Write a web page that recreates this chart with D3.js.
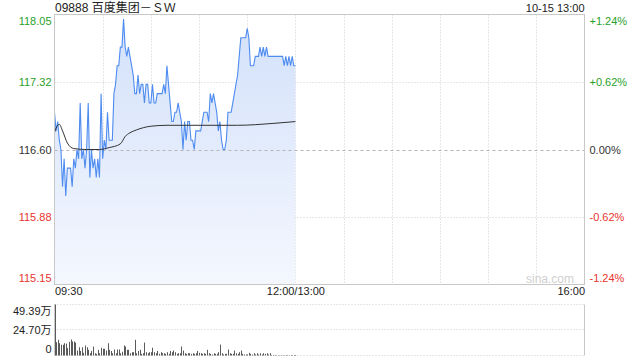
<!DOCTYPE html>
<html>
<head>
<meta charset="utf-8">
<script src="https://cdn.jsdelivr.net/npm/d3@7"></script>
<style>
  body { margin: 0; background: #fff; }
  svg { display: block; }
</style>
</head>
<body>
<svg id="chart"></svg>
<script>
// ---- data ----
const stockName = '09888 百度集团－ＳＷ'
const stamp = '10-15 13:00'
const prevClose = 116.60
const priceTicks = [115.15, 115.88, 116.60, 117.32, 118.05]
const pctTicks = ['-1.24%', '-0.62%', '0.00%', '+0.62%', '+1.24%']
const timeTicks = [0, 150, 330]
const timeLabels = ['09:30', '12:00/13:00', '16:00']
const volTicks = [0, 24.70, 49.39]
const volLabels = ['0', '24.70万', '49.39万']

// one price per minute from 09:30
const prices = [
  117.0, 116.8, 116.9, 116.7, 116.6, 116.2, 116.5, 116.1, 116.4, 116.4,
  116.4, 116.2, 116.5, 116.4, 116.6, 116.5, 117.1, 116.5, 116.6, 116.4,
  116.6, 117.1, 116.3, 116.6, 116.4, 116.5, 116.3, 116.5, 116.3, 117.2,
  116.5, 116.7, 116.6, 117.0, 116.7, 116.7, 116.7, 117.2, 117.3, 117.5,
  117.5, 117.7, 117.7, 118.0, 117.7, 117.6, 117.7, 117.6, 117.5, 117.4,
  117.2, 117.2, 117.4, 117.2, 117.3, 117.3, 117.1, 117.3, 117.3, 117.1,
  117.1, 117.3, 117.1, 117.1, 117.2, 117.2, 117.2, 117.2, 117.3, 117.2,
  117.5, 117.3, 117.1, 116.9, 116.9, 117.0, 117.0, 117.1, 117.0, 116.9,
  116.6, 116.9, 116.7, 116.9, 116.9, 116.7, 116.7, 116.6, 116.8, 116.8,
  116.8, 116.8, 116.9, 117.0, 117.0, 117.0, 116.9, 117.2, 117.1, 117.2,
  117.1, 117.0, 116.8, 116.9, 116.7, 116.6, 116.6, 116.7, 117.0, 117.0,
  117.0, 117.1, 117.2, 117.3, 117.4, 117.6, 117.8, 117.8, 117.8, 117.8,
  117.9, 117.8, 117.5, 117.5, 117.5, 117.6, 117.6, 117.6, 117.7, 117.6,
  117.7, 117.6, 117.7, 117.6, 117.6, 117.6, 117.6, 117.6, 117.6, 117.6,
  117.6, 117.6, 117.6, 117.5, 117.6, 117.5, 117.6, 117.5, 117.6, 117.5,
  117.5
]

// average price line, read at a few minutes
const avgMinutes = [0, 1, 3, 5, 8, 12, 20, 28, 34, 41, 44, 47, 51, 60, 70, 114, 136, 150]
const avgPrices = [116.78, 116.83, 116.87, 116.80, 116.67, 116.61, 116.60, 116.60, 116.62, 116.66,
  116.74, 116.78, 116.81, 116.85, 116.86, 116.86, 116.88, 116.90]

// volume per minute, in 万 shares
const volumes = [
  49.39, 12.9, 15.2, 11.9, 10.4, 10.4, 11.9, 11.5, 7.1, 13.2,
  15.5, 13.6, 13.6, 12.5, 4.8, 8.0, 4.4, 8.0, 2.6, 9.7,
  8.0, 5.5, 2.2, 4.4, 8.7, 2.2, 1.6, 5.5, 2.2, 7.5,
  6.5, 6.5, 4.8, 11.9, 5.5, 4.4, 2.2, 5.8, 2.2, 5.8,
  5.8, 2.2, 3.6, 9.7, 8.7, 5.5, 5.5, 2.2, 3.2, 3.2,
  15.2, 2.2, 4.4, 5.5, 1.6, 2.2, 12.5, 3.2, 2.2, 3.2,
  3.2, 7.5, 3.2, 2.2, 4.4, 1.6, 3.2, 2.2, 2.2, 1.6,
  3.2, 1.6, 4.4, 3.2, 4.8, 3.2, 1.6, 2.2, 2.2, 8.7,
  4.8, 2.2, 1.6, 2.2, 2.2, 1.6, 2.2, 1.6, 2.2, 4.4,
  2.6, 2.2, 1.6, 2.2, 1.6, 5.5, 2.2, 1.6, 1.0, 2.2,
  1.6, 1.6, 3.2, 10.6, 2.2, 1.0, 1.6, 1.6, 5.8, 2.2,
  1.6, 1.6, 4.8, 2.2, 1.6, 3.2, 4.8, 1.6, 1.0, 1.0,
  1.0, 2.6, 1.6, 1.0, 2.2, 1.0, 2.2, 1.0, 2.2, 1.0,
  2.2, 1.6, 2.2, 1.0, 2.2, 0.5, 0.5, 0.5, 0.3, 0.3,
  0.3, 0.5, 0.3, 0.3, 0.3, 0.5, 0.3, 0.5, 0.3, 0.5,
  0.5
]

// ---- layout ----
const W = 640, H = 360
const pLeft = 54.5, pRight = 584.5, pTop = 14.5, pBottom = 284.5
const volTop = 304.5, volBottom = 355.5
const font = '"Liberation Sans", Arial, "Noto Sans CJK SC", sans-serif'
const green = '#2aa12a', red = '#e8342e', grid = '#cfcfcf'

const svg = d3.select('#chart')
  .attr('width', W)
  .attr('height', H)
  .style('font-family', font)

const x = d3.scaleLinear().domain([0, 330]).range([pLeft, pRight])
const y = d3.scaleLinear().domain([priceTicks[0], priceTicks[4]]).range([pBottom, pTop])
const yv = d3.scaleLinear().domain([0, volTicks[2]]).range([volBottom, volTop])

// gradient for the area under the price line
const grad = svg.append('defs').append('linearGradient')
  .attr('id', 'fillGrad').attr('x1', 0).attr('y1', 0).attr('x2', 0).attr('y2', 1)
grad.append('stop').attr('offset', '0%').attr('stop-color', '#d3e1fa')
grad.append('stop').attr('offset', '100%').attr('stop-color', '#f4f7fe')

// vertical grid, every 30 minutes
svg.append('g')
  .selectAll('line')
  .data(d3.range(30, 330, 30))
  .join('line')
  .attr('x1', d => Math.round(x(d)) + 0.5).attr('x2', d => Math.round(x(d)) + 0.5)
  .attr('y1', pTop).attr('y2', pBottom)
  .attr('stroke', grid).attr('stroke-dasharray', '1,2')

// horizontal grid
svg.append('g')
  .selectAll('line')
  .data([priceTicks[1], priceTicks[3]])
  .join('line')
  .attr('x1', pLeft).attr('x2', pRight)
  .attr('y1', d => Math.round(y(d)) + 0.5).attr('y2', d => Math.round(y(d)) + 0.5)
  .attr('stroke', grid).attr('stroke-dasharray', '1,2')

// area + price line
svg.append('path')
  .datum(prices)
  .attr('fill', 'url(#fillGrad)')
  .attr('d', d3.area()
    .x((d, i) => x(i))
    .y0(pBottom)
    .y1(d => y(d)))

// previous close line
svg.append('line')
  .attr('x1', pLeft).attr('x2', pRight)
  .attr('y1', Math.round(y(prevClose)) + 0.5).attr('y2', Math.round(y(prevClose)) + 0.5)
  .attr('stroke', '#b5b5b5').attr('stroke-dasharray', '3,3')

svg.append('path')
  .datum(prices)
  .attr('fill', 'none')
  .attr('stroke', '#4e8cf0')
  .attr('stroke-width', 1.1)
  .attr('d', d3.line()
    .x((d, i) => x(i))
    .y(d => y(d)))

svg.append('path')
  .datum(avgMinutes.map((m, i) => [m, avgPrices[i]]))
  .attr('fill', 'none')
  .attr('stroke', '#333')
  .attr('stroke-width', 1)
  .attr('d', d3.line()
    .curve(d3.curveMonotoneX)
    .x(d => x(d[0]))
    .y(d => y(d[1])))

// frame
svg.append('rect')
  .attr('x', pLeft).attr('y', pTop)
  .attr('width', pRight - pLeft).attr('height', pBottom - pTop)
  .attr('fill', 'none').attr('stroke', '#c8c8c8')

// watermark
svg.append('text')
  .attr('x', 574).attr('y', 283)
  .attr('text-anchor', 'end')
  .attr('font-size', '12px')
  .attr('fill', '#cfcfcf')
  .text('sina.com')

// left price axis
const colorOf = d => d > prevClose ? green : d < prevClose ? red : '#333'
const ya = svg.append('g')
  .attr('transform', 'translate(' + (pLeft - 3) + ',0)')
  .call(d3.axisLeft(y).tickValues(priceTicks).tickSize(0).tickPadding(0).tickFormat(d3.format('.2f')))
ya.select('.domain').remove()
ya.selectAll('text')
  .attr('font-size', '11px').attr('font-family', font)
  .attr('fill', d => colorOf(d))
  .attr('dy', (d, i) => i === 0 ? '-0.25em' : i === 4 ? '0.9em' : '0.32em')

// right percent axis
const ypa = svg.append('g')
  .attr('transform', 'translate(' + (pRight + 5) + ',0)')
  .call(d3.axisRight(y).tickValues(priceTicks).tickSize(0).tickPadding(0)
    .tickFormat((d, i) => pctTicks[i]))
ypa.select('.domain').remove()
ypa.selectAll('text')
  .attr('font-size', '11px').attr('font-family', font)
  .attr('fill', d => colorOf(d))
  .attr('dy', (d, i) => i === 0 ? '-0.25em' : i === 4 ? '0.9em' : '0.32em')

// time axis
const xa = svg.append('g')
  .attr('transform', 'translate(0,' + (pBottom + 1) + ')')
  .call(d3.axisBottom(x).tickValues(timeTicks).tickSize(0).tickPadding(2)
    .tickFormat((d, i) => timeLabels[i]))
xa.select('.domain').remove()
xa.selectAll('text')
  .attr('font-size', '11px').attr('font-family', font).attr('fill', '#222')
  .attr('text-anchor', (d, i) => i === 0 ? 'start' : i === 2 ? 'end' : 'middle')

// header
svg.append('text')
  .attr('x', 55).attr('y', 12)
  .attr('font-size', '12px').attr('fill', '#222')
  .text(stockName)
svg.append('text')
  .attr('x', pRight).attr('y', 12)
  .attr('text-anchor', 'end')
  .attr('font-size', '11px').attr('fill', '#222')
  .text(stamp)

// ---- volume panel ----
svg.append('g')
  .selectAll('line')
  .data(volTicks)
  .join('line')
  .attr('x1', pLeft).attr('x2', pRight)
  .attr('y1', d => Math.round(yv(d)) - 0.5).attr('y2', d => Math.round(yv(d)) - 0.5)
  .attr('stroke', grid).attr('stroke-dasharray', '1,2')
svg.append('line')
  .attr('x1', pRight).attr('x2', pRight).attr('y1', volTop).attr('y2', volBottom)
  .attr('stroke', '#c8c8c8')
svg.append('line')
  .attr('x1', pLeft).attr('x2', pLeft).attr('y1', volTop).attr('y2', volBottom)
  .attr('stroke', '#c8c8c8')

svg.append('g')
  .selectAll('rect')
  .data(volumes)
  .join('rect')
  .attr('x', (d, i) => Math.round(x(i)))
  .attr('width', 1)
  .attr('y', d => yv(d))
  .attr('height', d => volBottom - yv(d))
  .attr('fill', '#5a5a5a')

const va = svg.append('g')
  .attr('transform', 'translate(' + (pLeft - 3) + ',0)')
  .call(d3.axisLeft(yv).tickValues(volTicks).tickSize(0).tickPadding(0)
    .tickFormat((d, i) => volLabels[i]))
va.select('.domain').remove()
va.selectAll('text')
  .attr('font-size', '11px').attr('font-family', font).attr('fill', '#222')
  .attr('dy', (d, i) => i === 0 ? '-0.3em' : i === 2 ? '0.9em' : '0.32em')
</script>
</body>
</html>
